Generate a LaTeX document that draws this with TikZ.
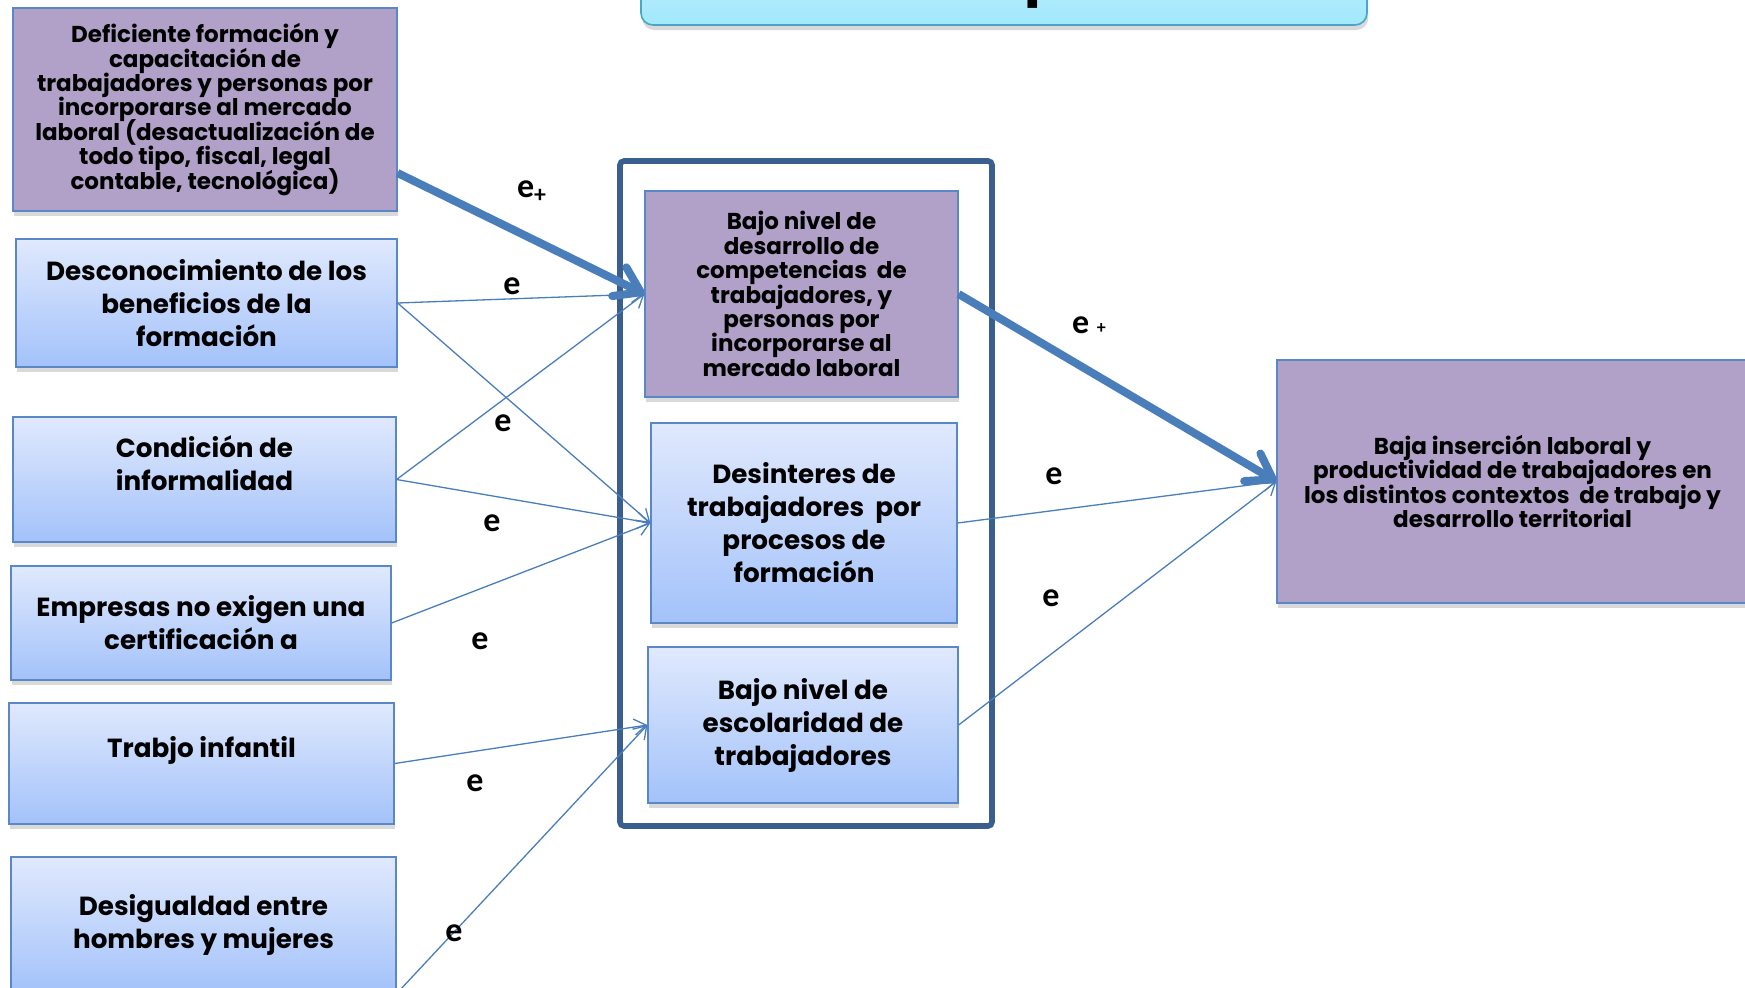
\documentclass[tikz,border=0pt]{standalone}
\usepackage{fontspec}
\setmainfont{Poppins}
\newfontfamily\lblfont{Carlito}
\usetikzlibrary{arrows.meta,shadows}

\definecolor{lila}{HTML}{B1A0C7}
\definecolor{borde}{HTML}{5A88C6}
\definecolor{azularr}{HTML}{E0E9FD}
\definecolor{azulaba}{HTML}{A3C2FA}
\definecolor{marco}{HTML}{3A5F8F}
\definecolor{flechacol}{HTML}{4A7EBB}
\definecolor{celeste}{HTML}{C2F1FD}
\definecolor{celesteb}{HTML}{A2E8FC}
\definecolor{celborde}{HTML}{4BA6C6}

\newcommand{\apretado}{\lineskiplimit=-6pt\relax}

\tikzset{
  box/.style = {draw = borde, line width = .6pt, align = center, inner sep = 2pt,
    drop shadow = {shadow xshift = .6pt, shadow yshift = -2.5pt, opacity = .3}},
  lilabox/.style = {box, fill = lila, font = \bfseries\fontsize{11.5}{12.2}\selectfont\apretado},
  azulbox/.style = {box, top color = azularr, bottom color = azulaba,
    font = \bfseries\fontsize{13.1}{16.5}\selectfont},
  flecha/.style = {draw = flechacol, line width = .65pt, -{Straight Barb[length = 6pt, width = 8pt]}},
  flechagruesa/.style = {draw = flechacol, line width = 4pt,
    -{Straight Barb[length = 12pt, width = 16pt, round]}},
  etiq/.style = {font = \lblfont\bfseries\fontsize{17}{17}\selectfont, inner sep = 0pt}
}

\begin{document}
\begin{tikzpicture}[x = .5pt, y = -.5pt]
    \useasboundingbox (0,0) rectangle (1745,987);
    % titulo (cortado arriba)
    \node[draw = celborde, line width = .8pt, rounded corners = 6pt, top color = celeste, bottom color = celesteb,
      minimum width = 363pt, minimum height = 42.5pt,
      drop shadow = {shadow xshift = .6pt, shadow yshift = -2.5pt, opacity = .3}] (tit) at (1004,-17.5) {};
    \node[anchor = base west, inner sep = 0pt, font = \bfseries\fontsize{28}{28}\selectfont] (titp) at (1024,-7) {p};

    % causas
    \node[lilabox, minimum width = 192pt, minimum height = 101.5pt] (def) at (205,109.5)
      {Deficiente formación y\\capacitación de\\trabajadores y personas por\\incorporarse al mercado\\laboral (desactualización de\\todo tipo, fiscal, legal\\contable, tecnológica)};
    \node[azulbox, minimum width = 190.5pt, minimum height = 64pt] (desc) at (206.5,303)
      {Desconocimiento de los\\beneficios de la\\formación};
    \node[azulbox, minimum width = 191.5pt, minimum height = 62.5pt] (cond) at (204.5,479.5)
      {Condición de\\informalidad\\~};
    \node[azulbox, minimum width = 190pt, minimum height = 57pt] (emp) at (201,623)
      {Empresas no exigen una\\certificación a};
    \node[azulbox, minimum width = 192.5pt, minimum height = 60.5pt] (trab) at (201.5,763.5)
      {Trabjo infantil\\~};
    \node[azulbox, minimum width = 192.5pt, minimum height = 68pt] (desig) at (203.5,925)
      {Desigualdad entre\\hombres y mujeres};

    % problemas centrales
    \node[draw = marco, line width = 2.8pt, rounded corners = 2pt, minimum width = 186pt, minimum height = 332.5pt] (marco) at (806,493.5) {};
    \node[lilabox, minimum width = 156.5pt, minimum height = 103pt] (bajo) at (801.5,294)
      {Bajo nivel de\\desarrollo de\\competencias \ de\\trabajadores, y\\personas por\\incorporarse al\\mercado laboral};
    \node[azulbox, minimum width = 153pt, minimum height = 100pt] (desin) at (804,523)
      {Desinteres de\\trabajadores \ por\\procesos de\\formación};
    \node[azulbox, minimum width = 155pt, minimum height = 78pt] (esc) at (803,725)
      {Bajo nivel de\\escolaridad de\\trabajadores};

    % efecto
    \node[lilabox, minimum width = 235.5pt, minimum height = 121.5pt] (baja) at (1512.5,481.5)
      {Baja inserción laboral y\\productividad de trabajadores en\\los distintos contextos \ de trabajo y\\desarrollo territorial};

    \draw[flechagruesa] ([yshift = -31.75pt]def.east) -- (bajo.west);
    \draw[flecha] (desc.east) -- (bajo.west);
    \draw[flecha] (desc.east) -- (desin.west);
    \draw[flecha] (cond.east) -- (bajo.west);
    \draw[flecha] (cond.east) -- (desin.west);
    \draw[flecha] (emp.east) -- (desin.west);
    \draw[flecha] (trab.east) -- (esc.west);
    \draw[flecha] (desig.south east) -- (esc.west);
    \draw[flechagruesa] (bajo.east) -- (baja.west);
    \draw[flecha] (desin.east) -- (baja.west);
    \draw[flecha] (esc.east) -- (baja.west);

    \node[etiq] (l1) at (532,192) {e\textsubscript{+}};
    \node[etiq] (l2) at (512,286) {e};
    \node[etiq] (l3) at (503,423) {e};
    \node[etiq] (l4) at (492,523) {e};
    \node[etiq] (l5) at (480,641) {e};
    \node[etiq] (l6) at (475,783) {e};
    \node[etiq] (l7) at (454,933) {e};
    \node[etiq] (l8) at (1089,325) {e {\fontsize{9}{9}\selectfont +}};
    \node[etiq] (l9) at (1054,476) {e};
    \node[etiq] (l10) at (1051,598) {e};
\end{tikzpicture}
\end{document}
